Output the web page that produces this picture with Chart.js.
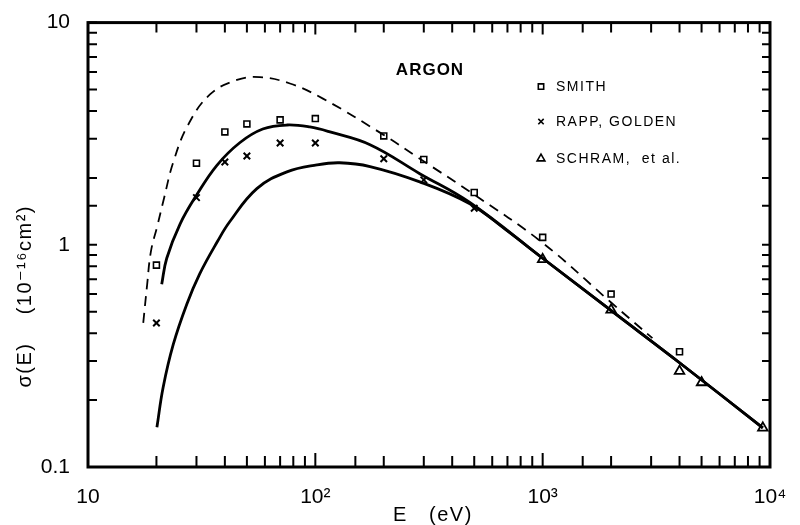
<!DOCTYPE html>
<html>
<head>
<meta charset="utf-8">
<script src="https://cdn.jsdelivr.net/npm/chart.js@4/dist/chart.umd.min.js"></script>
<style>
  html, body { margin: 0; padding: 0; background: #fff; }
  #wrap { width: 800px; height: 525px; }
</style>
</head>
<body>
<div id="wrap"><canvas id="argonChart"></canvas></div>
<script>
// Measured points, energy in eV, cross section in 1e-16 cm^2
const smithE = [20, 30, 40, 50, 70, 100, 200, 300, 500, 1000, 2000, 4000];
const smithS = [0.81, 2.33, 3.22, 3.50, 3.65, 3.70, 3.09, 2.42, 1.72, 1.08, 0.60, 0.33];

const rappE = [20, 30, 40, 50, 70, 100, 200, 300, 500];
const rappS = [0.445, 1.63, 2.36, 2.51, 2.87, 2.87, 2.44, 1.96, 1.46];

const schramE = [1000, 2000, 4000, 5000, 9300];
const schramS = [0.86, 0.51, 0.27, 0.24, 0.15];

// Theory curves
const dashE = [17.5, 18.2, 18.9, 20.2, 21.6, 23.7, 27.5, 34.4, 45.2, 57, 77.3, 108, 198, 288, 492, 1000, 2000, 3040];
const dashS = [0.445, 0.66, 0.93, 1.22, 1.62, 2.35, 3.45, 4.75, 5.52, 5.68, 5.32, 4.55, 3.14, 2.44, 1.70, 1.02, 0.55, 0.38];

const upperE = [21.1, 22.2, 25.4, 30.1, 36.9, 46.5, 58.7, 75, 94.6, 116, 174, 288, 478, 1000, 2030, 4080, 9300];
const upperS = [0.665, 0.87, 1.24, 1.68, 2.28, 2.88, 3.32, 3.46, 3.39, 3.22, 2.82, 2.09, 1.55, 0.87, 0.50, 0.29, 0.15];

const lowerE = [20.1, 21.4, 23.7, 27.2, 31.0, 37.2, 42, 55.3, 75, 101.6, 128, 174, 288, 478, 695, 1000, 2030, 4080, 9300];
const lowerS = [0.151, 0.228, 0.355, 0.54, 0.74, 1.04, 1.27, 1.79, 2.13, 2.29, 2.34, 2.25, 1.92, 1.53, 1.16, 0.87, 0.50, 0.29, 0.15];

// Tick labels shown at the decades
const xTickLabels = { 10: '10', 100: '10²', 1000: '10³', 10000: '10⁴' };
const yTickLabels = { 0.1: '0.1', 1: '1', 10: '10' };

const pts = (xs, ys) => xs.map((x, i) => ({ x: x, y: ys[i] }));
const FONT = '"Liberation Sans", "DejaVu Sans", sans-serif';

function isDecade(v) {
    const l = Math.log10(v);
    return Math.abs(l - Math.round(l)) < 1e-6;
}

// Box frame, inward ticks, titles and the in-plot key
const framePlugin = {
    id: 'frame',
    afterDraw(chart) {
        const ctx = chart.ctx;
        const a = chart.chartArea;
        const xs = chart.scales.x, ys = chart.scales.y;
        ctx.save();
        ctx.strokeStyle = '#000';
        ctx.lineWidth = 2;
        xs.ticks.forEach(t => {
            const px = xs.getPixelForValue(t.value);
            const major = isDecade(t.value);
            ctx.beginPath();
            ctx.moveTo(px, a.bottom);
            ctx.lineTo(px, a.bottom - (major ? 14 : 11));
            ctx.moveTo(px, a.top);
            ctx.lineTo(px, a.top + (major ? 12 : 10));
            ctx.stroke();
        });
        ys.ticks.forEach(t => {
            const py = ys.getPixelForValue(t.value);
            ctx.beginPath();
            ctx.moveTo(a.left, py);
            ctx.lineTo(a.left + 9, py);
            ctx.moveTo(a.right, py);
            ctx.lineTo(a.right - 8, py);
            ctx.stroke();
        });
        ctx.lineWidth = 3;
        ctx.strokeRect(a.left, a.top, a.right - a.left, a.bottom - a.top);

        // axis titles
        ctx.fillStyle = '#000';
        ctx.font = '20px ' + FONT;
        ctx.textAlign = 'left';
        ctx.textBaseline = 'alphabetic';
        ctx.letterSpacing = '1.5px';
        ctx.fillText('E   (eV)', a.left + 305, 521);
        ctx.save();
        ctx.translate(31, a.top + 365);
        ctx.rotate(-Math.PI / 2);
        ctx.fillText('σ(E)    (10⁻¹⁶cm²)', 0, 0);
        ctx.restore();

        // title and key inside the plot
        ctx.font = 'bold 17px ' + FONT;
        ctx.letterSpacing = '1px';
        ctx.textAlign = 'center';
        ctx.fillText('ARGON', a.left + 342, a.top + 52);

        ctx.font = '14px ' + FONT;
        ctx.letterSpacing = '1.5px';
        ctx.textAlign = 'left';
        ctx.textBaseline = 'middle';
        const keyX = a.left + 453, textX = a.left + 468;
        const rows = [
            { y: a.top + 64, label: 'SMITH', style: 'rect' },
            { y: a.top + 99, label: 'RAPP, GOLDEN', style: 'crossRot' },
            { y: a.top + 136, label: 'SCHRAM,  et al.', style: 'triangle' }
        ];
        rows.forEach(r => {
            ctx.lineWidth = 1.6;
            ctx.fillStyle = '#fff';
            Chart.helpers.drawPoint(ctx, { pointStyle: r.style, radius: r.style === 'triangle' ? 4.5 : 3.8, borderWidth: 1.6 }, keyX, r.y);
            ctx.fillStyle = '#000';
            ctx.fillText(r.label, textX, r.y + 1);
        });
        ctx.restore();
    }
};

new Chart(document.getElementById('argonChart'), {
    type: 'line',
    data: {
        datasets: [
            {
                label: 'dashed',
                data: pts(dashE, dashS),
                borderColor: '#000',
                borderWidth: 1.8,
                borderDash: [10, 7],
                pointRadius: 0,
                tension: 0.4
            },
            {
                label: 'upper',
                data: pts(upperE, upperS),
                borderColor: '#000',
                borderWidth: 2.8,
                pointRadius: 0,
                tension: 0.4
            },
            {
                label: 'lower',
                data: pts(lowerE, lowerS),
                borderColor: '#000',
                borderWidth: 2.8,
                pointRadius: 0,
                tension: 0.4
            },
            {
                label: 'SMITH',
                data: pts(smithE, smithS),
                showLine: false,
                pointStyle: 'rect',
                pointRadius: 4.2,
                pointBorderWidth: 1.6,
                pointBorderColor: '#000',
                pointBackgroundColor: '#fff'
            },
            {
                label: 'RAPP, GOLDEN',
                data: pts(rappE, rappS),
                showLine: false,
                pointStyle: 'crossRot',
                pointRadius: 4.6,
                pointBorderWidth: 2,
                pointBorderColor: '#000'
            },
            {
                label: 'SCHRAM, et al.',
                data: pts(schramE, schramS),
                showLine: false,
                pointStyle: 'triangle',
                pointRadius: 5.5,
                pointBorderWidth: 1.8,
                pointBorderColor: '#000',
                pointBackgroundColor: '#fff'
            }
        ]
    },
    options: {
        responsive: true,
        maintainAspectRatio: false,
        animation: false,
        layout: { padding: { top: 20, right: 30, left: 0, bottom: 0 } },
        plugins: { legend: { display: false }, tooltip: { enabled: false } },
        scales: {
            x: {
                type: 'logarithmic',
                min: 10,
                max: 10000,
                grid: { display: false },
                border: { display: false },
                afterFit: s => { s.height = 58; },
                ticks: {
                    autoSkip: false,
                    maxRotation: 0,
                    padding: 10,
                    color: '#000',
                    font: { family: FONT, size: 21 },
                    callback: v => xTickLabels[v] || ''
                }
            },
            y: {
                type: 'logarithmic',
                min: 0.1,
                max: 10,
                grid: { display: false },
                border: { display: false },
                afterFit: s => { s.width = 88; },
                ticks: {
                    autoSkip: false,
                    padding: 10,
                    color: '#000',
                    font: { family: FONT, size: 21 },
                    callback: v => yTickLabels[v] || ''
                }
            }
        }
    },
    plugins: [framePlugin]
});
</script>
</body>
</html>
